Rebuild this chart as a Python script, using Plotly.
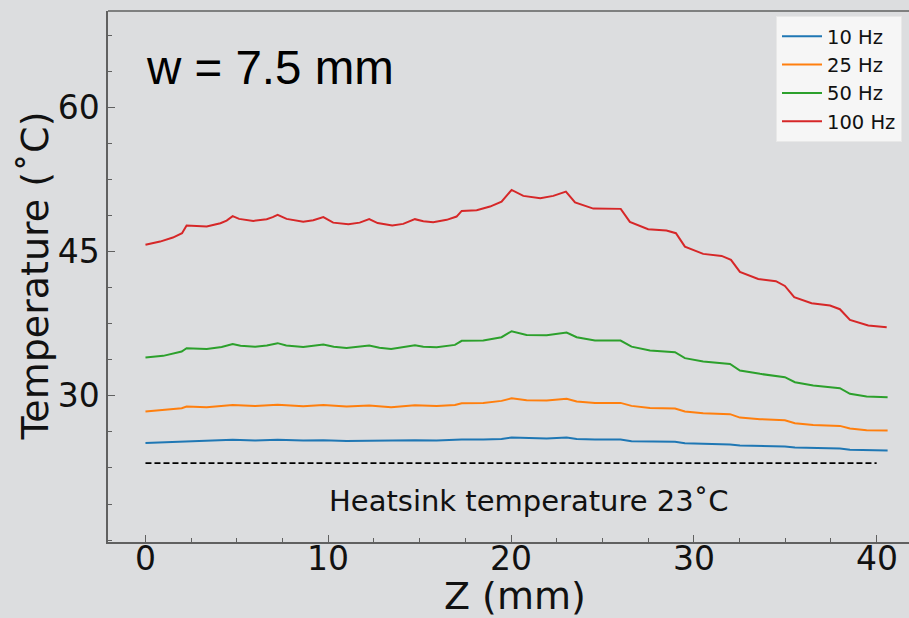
import plotly.graph_objects as go

# ---------------- data ----------------
z_10 = [0, 1.98, 2.25, 4.77, 6.0, 7.23, 8.63, 9.73, 11.0, 12.24, 13.44, 14.74, 15.93,
        17.3, 18.48, 19.48, 20.03, 21.95, 23.04, 23.59, 24.59, 25.99, 26.59, 28.97,
        29.51, 31.98, 32.52, 34.98, 35.53, 37.99, 38.54, 40.6]
t_10 = [25.10, 25.24, 25.31, 25.42, 25.34, 25.42, 25.34, 25.38, 25.31, 25.34, 25.31, 25.38, 25.34,
        25.45, 25.45, 25.52, 25.66, 25.55, 25.66, 25.52, 25.45, 25.45, 25.28, 25.21,
        25.07, 24.93, 24.82, 24.72, 24.62, 24.52, 24.38, 24.30]

z_25 = [0, 1.16, 1.98, 2.25, 3.35, 4.77, 6.0, 7.23, 8.63, 9.73, 11.0, 12.24, 13.44, 14.74,
        15.93, 16.93, 17.3, 18.48, 19.48, 20.03, 20.85, 21.95, 23.04, 23.59, 24.59, 25.99,
        26.59, 27.6, 28.97, 29.51, 30.51, 31.98, 32.52, 33.62, 34.98, 35.53, 36.53, 37.99,
        38.54, 39.45, 40.6]
t_25 = [28.36, 28.53, 28.71, 28.88, 28.81, 29.05, 28.95, 29.08, 28.92, 29.05, 28.88, 28.98, 28.81, 29.02,
        28.95, 29.05, 29.23, 29.26, 29.47, 29.73, 29.54, 29.50, 29.68, 29.40, 29.26, 29.26,
        28.95, 28.74, 28.67, 28.36, 28.19, 28.09, 27.73, 27.57, 27.46, 27.15, 26.97, 26.87,
        26.59, 26.42, 26.38]

z_50 = [0, 0.97, 1.98, 2.25, 3.35, 4.17, 4.77, 5.2, 6.0, 6.64, 7.23, 7.7, 8.63, 9.73, 10.3, 11.0, 12.24,
        12.8, 13.44, 14.74, 15.2, 15.93, 16.93, 17.3, 18.48, 19.48, 20.03, 20.85, 21.95, 23.04, 23.59,
        24.59, 25.99, 26.59, 27.6, 28.97, 29.51, 30.51, 31.98, 32.52, 33.62, 34.98, 35.53,
        36.53, 37.99, 38.54, 39.45, 40.6]
t_50 = [33.97, 34.15, 34.60, 34.95, 34.87, 35.08, 35.39, 35.20, 35.11, 35.22, 35.47, 35.22, 35.08, 35.32, 35.10, 34.98, 35.22,
        35.00, 34.87, 35.26, 35.10, 35.05, 35.29, 35.71, 35.74, 36.09, 36.71, 36.33, 36.30, 36.57, 36.09,
        35.74, 35.74, 35.11, 34.70, 34.53, 33.91, 33.56, 33.31, 32.62, 32.28, 31.93, 31.41,
        31.06, 30.79, 30.20, 29.92, 29.85]

z_100 = [0, 0.8, 1.5, 2.0, 2.25, 2.8, 3.35, 4.1, 4.44, 4.77, 5.12, 5.9, 6.63, 6.96, 7.23, 7.72,
         8.63, 9.18, 9.73, 10.27, 11.1, 11.72, 12.24, 12.7, 13.5, 14.1, 14.74, 15.2, 15.74,
         16.48, 17.02, 17.3, 18.12, 18.85, 19.48, 20.03, 20.67, 21.6, 22.31, 23.0, 23.5, 24.5,
         26.0, 26.5, 27.5, 28.5, 29.02, 29.51, 30.51, 31.52, 32.03, 32.52, 33.52, 34.49, 34.98,
         35.49, 36.44, 37.45, 37.99, 38.54, 39.54, 40.55]
t_100 = [45.69, 46.03, 46.45, 46.90, 47.70, 47.62, 47.59, 47.94, 48.21, 48.67, 48.39, 48.18, 48.36, 48.57, 48.80, 48.39,
         48.10, 48.25, 48.57, 48.00, 47.84, 48.00, 48.36, 47.95, 47.70, 47.87, 48.36, 48.15, 48.05,
         48.29, 48.63, 49.22, 49.29, 49.67, 50.19, 51.40, 50.78, 50.54, 50.78, 51.23, 50.10, 49.46,
         49.43, 48.08, 47.32, 47.17, 46.90, 45.51, 44.75, 44.54, 44.13, 42.88, 42.15, 41.91, 41.42,
         40.25, 39.63, 39.38, 39.00, 37.89, 37.30, 37.13]

heatsink_z = [0, 40]
heatsink_t = [23, 23]

series_names = ["10 Hz", "25 Hz", "50 Hz", "100 Hz"]
series_z = [z_10, z_25, z_50, z_100]
series_t = [t_10, t_25, t_50, t_100]
colors = ["#1f77b4", "#ff7f0e", "#2ca02c", "#d62728"]

x_ticks = [0, 10, 20, 30, 40]
y_ticks = [30, 45, 60]

BG = "#dcdddf"
AX = "#606060"
TXT = "#111111"
FONT = "DejaVu Sans"

PL, PT, PW, PH = 108, 11, 801, 531  # plot area in pixels


def py(pix):
    """pixel row -> paper y"""
    return (PT + PH - pix) / PH


def px(pix):
    """pixel column -> paper x"""
    return (pix - PL) / PW


fig = go.Figure()
for name, zz, tt, c in zip(series_names, series_z, series_t, colors):
    fig.add_trace(go.Scatter(x=zz, y=tt, mode="lines", name=name,
                             line=dict(color=c, width=2), legendgroup=name))
fig.add_trace(go.Scatter(x=heatsink_z, y=heatsink_t, mode="lines", showlegend=False,
                         line=dict(color="black", width=1.8, dash="6px,3px")))

annotations = [
    dict(text="w = 7.5 mm", xref="paper", yref="paper", x=px(144), y=py(67),
         xanchor="left", yanchor="middle", showarrow=False,
         font=dict(family="Liberation Sans", size=47.5, color="black")),
    dict(text="Heatsink temperature 23˚C", xref="x", yref="y", x=21.0, y=19.1,
         xanchor="center", yanchor="middle", showarrow=False,
         font=dict(family=FONT, size=29, color=TXT)),
    dict(text="Z (mm)", xref="paper", yref="paper", x=px(515), y=py(596),
         xanchor="center", yanchor="middle", showarrow=False,
         font=dict(family=FONT, size=38, color=TXT)),
    dict(text="Temperature (˚C)", xref="paper", yref="paper", x=px(34), y=0.5,
         xanchor="center", yanchor="middle", textangle=-90, showarrow=False,
         font=dict(family=FONT, size=38, color=TXT)),
]
for v in x_ticks:
    annotations.append(dict(text=str(v), xref="x", yref="paper", x=v, y=py(558),
                            xanchor="center", yanchor="middle", showarrow=False,
                            font=dict(family=FONT, size=33, color=TXT)))

fig.update_layout(
    width=909, height=618,
    margin=dict(l=PL, r=0, t=PT, b=618 - PT - PH),
    paper_bgcolor=BG, plot_bgcolor=BG,
    font=dict(family=FONT, color=TXT),
    showlegend=True,
    legend=dict(x=px(776), y=py(16), xanchor="left", yanchor="top",
                bgcolor="#f6f6f6", bordercolor="#e8e8e8", borderwidth=1,
                font=dict(family=FONT, size=19.5, color=TXT),
                tracegroupgap=0, itemwidth=40),
    xaxis=dict(range=[-2.05, 41.77], showgrid=False, zeroline=False,
               showline=True, linecolor=AX, linewidth=1.5,
               tickvals=x_ticks, ticks="inside", ticklen=7, tickcolor=AX, tickwidth=1,
               showticklabels=False,
               minor=dict(dtick=2.5, tick0=0, ticks="inside", ticklen=4, tickcolor=AX, showgrid=False)),
    yaxis=dict(range=[14.8, 70.0], showgrid=False, zeroline=False,
               showline=True, linecolor=AX, linewidth=1.5,
               tickvals=y_ticks, ticks="inside", ticklen=7, tickcolor=AX, tickwidth=1,
               tickfont=dict(family=FONT, size=33, color=TXT),
               minor=dict(dtick=3.75, tick0=0, ticks="inside", ticklen=4, tickcolor=AX, showgrid=False)),
    shapes=[dict(type="line", xref="paper", yref="paper", x0=0, x1=1, y0=1, y1=1,
                 line=dict(color=AX, width=1.5))],
    annotations=annotations,
)

fig.write_html(
    "out.html",
    config={"displayModeBar": False},
    post_script="document.body.style.margin='0';document.body.style.padding='0';"
                "document.body.style.background='%s';document.documentElement.style.overflow='hidden';" % BG,
)
